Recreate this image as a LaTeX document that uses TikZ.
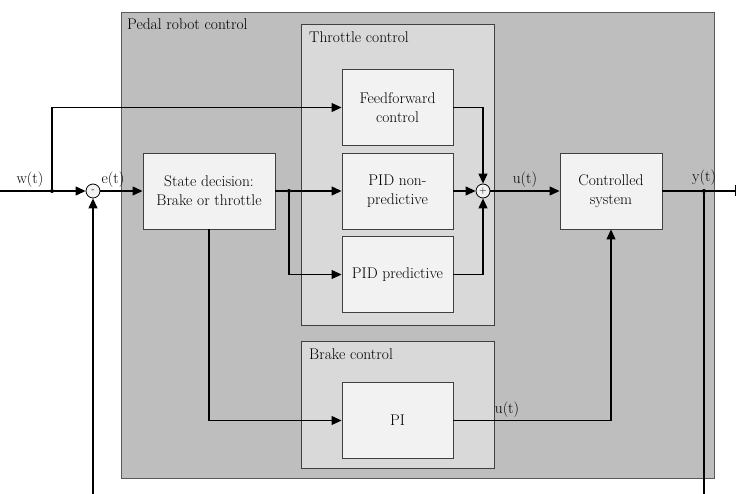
\documentclass[tikz,border=0pt]{standalone}
\usepackage{fontspec}
\usetikzlibrary{arrows.meta,positioning}
\definecolor{outergray}{HTML}{BEBEBE}
\definecolor{innergray}{HTML}{D9D9D9}
\definecolor{blockfill}{HTML}{F2F2F2}
\definecolor{edgegray}{HTML}{404040}
\tikzset{
  block/.style={draw=edgegray, fill=blockfill, line width=0.9pt, minimum width=111pt, minimum height=76pt, align=center, inner sep=2pt},
  group/.style={draw=edgegray, line width=0.9pt},
  sumnode/.style={circle, draw, fill=blockfill, line width=0.8pt, minimum size=14pt, inner sep=0pt, font=\fontsize{10}{10}\selectfont},
  dot/.style={circle, fill, inner sep=0pt, minimum size=4pt},
  arr/.style={-{Triangle[length=10pt,width=9pt]}, line width=1.1pt},
  wire/.style={line width=1.1pt},
  sig/.style={inner sep=3pt},
}
\begin{document}
\begin{tikzpicture}[x=1pt, y=-1pt, font=\fontsize{15.5}{19}\selectfont]
\useasboundingbox (0,0) rectangle (738,494);
% group boxes
\filldraw[group, fill=outergray, draw=gray!70!black] (121,12) rectangle (714,478);
\filldraw[group, fill=innergray] (301,24) rectangle (494,325);
\filldraw[group, fill=innergray] (301,341) rectangle (494,468);
\node[anchor=north west, inner sep=0pt] (robotlbl) at (127,19) {Pedal robot control};
\node[anchor=north west, inner sep=0pt] (throttlelbl) at (309,32) {Throttle control};
\node[anchor=north west, inner sep=0pt] (brakelbl) at (309,349) {Brake control};

% blocks
\node[block] (ff) at (397.5,107.5) {Feedforward\\control};
\node[block] (pidn) at (397.5,191) {PID non-\\predictive};
\node[block] (pidp) at (397.5,274.5) {PID predictive};
\node[block, minimum width=132pt] (state) at (209,191) {State decision:\\Brake or throttle};
\node[block, minimum width=102pt] (plant) at (611,191) {Controlled\\system};
\node[block] (pi) at (397.5,420.5) {PI};
\node[sumnode] (sum1) at (93,191) {-};
\node[sumnode] (sum2) at (483,191) {+};

% points
\coordinate (in) at (0,191);
\node[dot] (wdot) at (52,191) {};
\node[dot] (sdot) at (289,191) {};
\node[dot, label={[sig]above:y(t)}] (ydot) at (704,191) {};
\coordinate (out) at (736,191);
\coordinate (fb1) at (93,494);
\coordinate (fb2) at (704,494);

% signals
\draw[arr] (in) -- node[sig, above, pos=0.35]{w(t)} (sum1);
\draw[arr] (wdot) |- (ff);
\draw[arr] (fb1) -- (sum1);
\draw[arr] (sum1) -- node[sig, above, pos=0.3]{e(t)} (state);
\draw[wire] (state) -- (sdot);
\draw[arr] (sdot) -- (pidn);
\draw[arr] (sdot) |- (pidp);
\draw[arr] (ff) -| (sum2);
\draw[arr] (pidn) -- (sum2);
\draw[arr] (pidp) -| (sum2);
\draw[arr] (sum2) -- node[sig, above]{u(t)} (plant);
\draw[wire, -{Bar[width=11pt]}] (plant) -- (out);
\draw[wire] (ydot) -- (fb2);
\draw[arr] (state) |- (pi);
\draw[arr] (pi) -| node[sig, above, pos=0.17]{u(t)} (plant);
\end{tikzpicture}
\end{document}
